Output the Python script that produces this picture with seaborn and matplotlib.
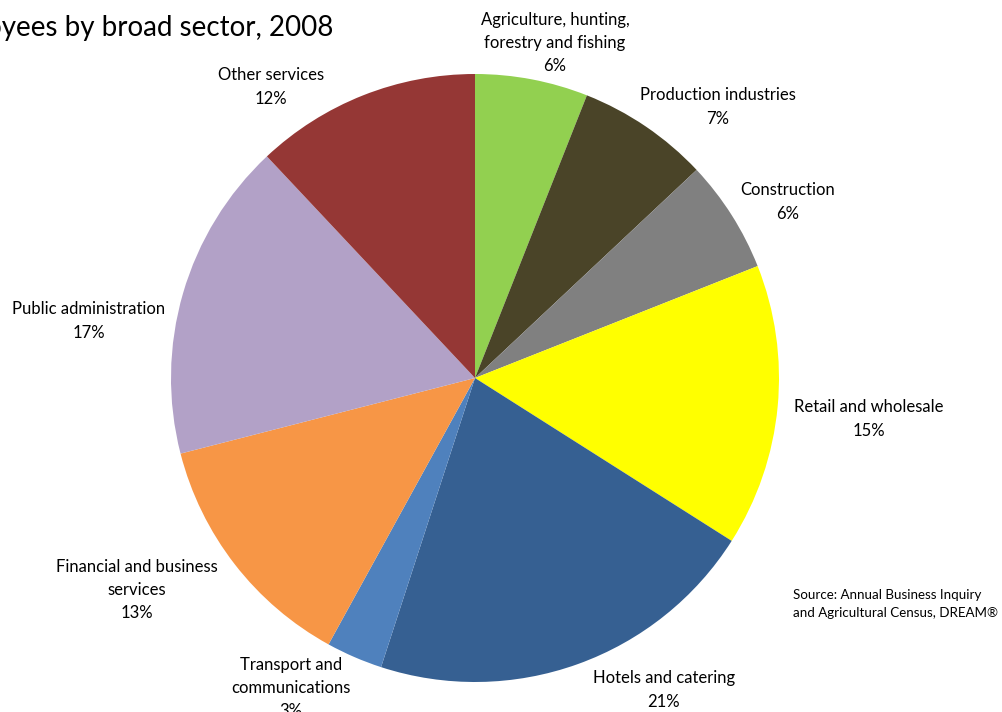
import matplotlib
matplotlib.use("Agg")
import matplotlib.pyplot as plt
import seaborn as sns

# Employee share by broad sector, 2008 (percent), clockwise from 12 o'clock
sectors = [
    "Agriculture, hunting,\nforestry and fishing",
    "Production industries",
    "Construction",
    "Retail and wholesale",
    "Hotels and catering",
    "Transport and\ncommunications",
    "Financial and business\nservices",
    "Public administration",
    "Other services",
]
shares = [6, 7, 6, 15, 21, 3, 13, 17, 12]
colors = ["#92D050", "#4A4428", "#808080", "#FFFF00", "#366092",
          "#4F81BD", "#F79646", "#B2A1C7", "#953735"]

title = "Employees by broad sector, 2008"
source = "Source: Annual Business Inquiry\nand Agricultural Census, DREAM\u00ae"

# label anchor points in pixel space (x from left, y from top)
label_xy = [(555, 43), (718, 107), (788, 202), (869, 419), (664, 690),
            (291, 688), (137, 590), (89, 321), (271, 87)]

sns.set_theme(style="white")
plt.rcParams["font.family"] = ["Lato", "DejaVu Sans"]

W, H = 1003, 712
fig = plt.figure(figsize=(W / 100, H / 100), dpi=100)
ax = fig.add_axes([0, 0, 1, 1])

cx, cy, r = 475, 378, 304
ax.pie(shares, colors=colors, startangle=90, counterclock=False,
       center=(cx, H - cy), radius=r,
       wedgeprops=dict(linewidth=0))

for name, val, (lx, ly) in zip(sectors, shares, label_xy):
    ax.text(lx, H - ly, f"{name}\n{val}%", ha="center", va="center",
            fontsize=12, color="black", linespacing=1.55)

ax.text(333, H - 28, title, ha="right", va="center", fontsize=20,
        color="black")
ax.text(793, H - 604, source, ha="left", va="center", fontsize=9.6,
        color="black", linespacing=1.6)

ax.set_xlim(0, W)
ax.set_ylim(0, H)
ax.set_aspect("equal")
ax.axis("off")
fig.savefig("out.png", dpi=100, facecolor="white")
